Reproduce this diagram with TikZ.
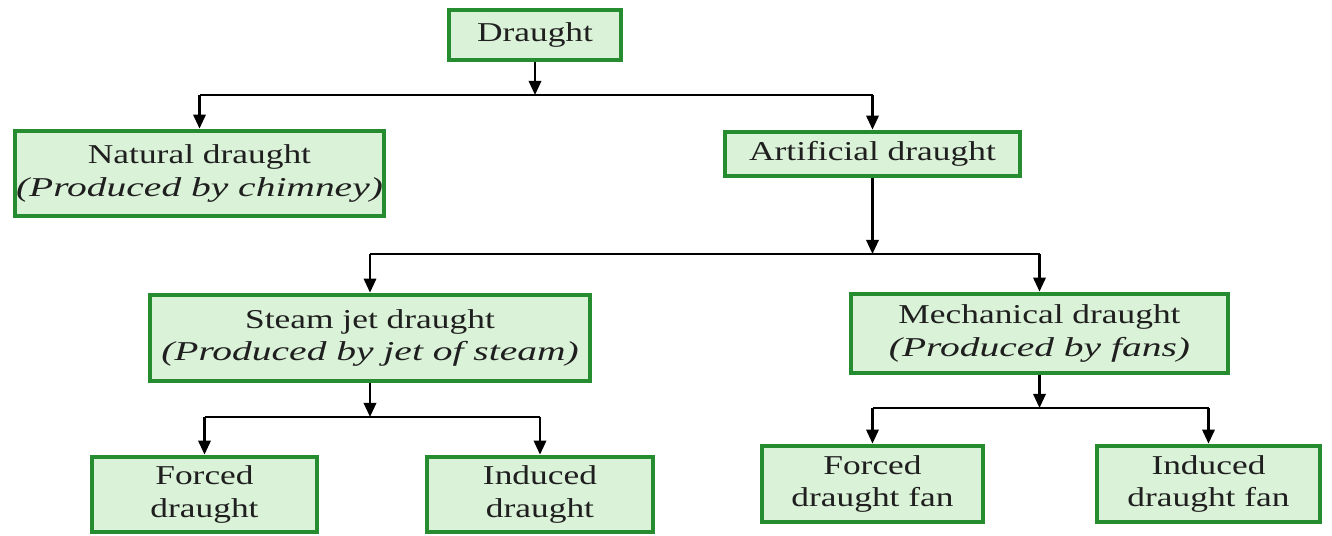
\documentclass[tikz,border=0pt]{standalone}
\usepackage{fontspec}
\setmainfont[FakeStretch=1.3,ItalicFeatures={FakeStretch=1.45}]{Liberation Serif}
\usetikzlibrary{arrows.meta}
\definecolor{boxgreen}{RGB}{38,140,48}
\definecolor{boxfill}{RGB}{218,242,215}
\begin{document}
\begin{tikzpicture}[>={Triangle[length=8pt,width=7pt]},x=0.02cm,y=-0.02cm,line width=1.4pt,
    box/.style={draw=boxgreen,line width=2.4pt,fill=boxfill,inner sep=0pt,align=center,text=black!88,font=\fontsize{15.5}{18.5}\selectfont}]
    \useasboundingbox (0,0) rectangle (1332,535);
    % boxes
    \node[box,minimum width=3.45cm,minimum height=1cm] (draught) at (535,35) {Draught};
    \node[box,minimum width=7.39cm,minimum height=1.71cm] (natural) at (199.5,173.5) {Natural draught\\\textit{(Produced by chimney)}};
    \node[box,minimum width=5.91cm,minimum height=0.89cm] (artificial) at (872.5,154) {Artificial draught};
    \node[box,minimum width=8.81cm,minimum height=1.73cm] (steam) at (370,338) {Steam jet draught\\\textit{(Produced by jet of steam)}};
    \node[box,minimum width=7.55cm,minimum height=1.59cm] (mechanical) at (1039.5,333.5) {Mechanical draught\\\textit{(Produced by fans)}};
    \node[box,minimum width=4.51cm,minimum height=1.51cm] (forced) at (204.5,494.5) {Forced\\draught};
    \node[box,minimum width=4.53cm,minimum height=1.51cm] (induced) at (540,494.5) {Induced\\draught};
    \node[box,minimum width=4.43cm,minimum height=1.53cm] (forcedfan) at (872.5,484) {Forced\\draught fan};
    \node[box,minimum width=4.47cm,minimum height=1.53cm] (inducedfan) at (1208.5,484) {Induced\\draught fan};
    % branch points
    \coordinate (bus1) at (535,95);
    \coordinate (bus2) at (872.5,254);
    \coordinate (bus3) at (370,417);
    \coordinate (bus4) at (1039.5,408);
    \draw[->] (draught) -- (bus1);
    \draw (bus1 -| natural) -- (bus1 -| artificial);
    \foreach \n in {natural,artificial}
    \draw[->] (bus1 -| \n) -- (\n);
    \draw[->] (artificial) -- (bus2);
    \draw (bus2 -| steam) -- (bus2 -| mechanical);
    \foreach \n in {steam,mechanical}
    \draw[->] (bus2 -| \n) -- (\n);
    \draw[->] (steam) -- (bus3);
    \draw (bus3 -| forced) -- (bus3 -| induced);
    \foreach \n in {forced,induced}
    \draw[->] (bus3 -| \n) -- (\n);
    \draw[->] (mechanical) -- (bus4);
    \draw (bus4 -| forcedfan) -- (bus4 -| inducedfan);
    \foreach \n in {forcedfan,inducedfan}
    \draw[->] (bus4 -| \n) -- (\n);
\end{tikzpicture}
\end{document}
